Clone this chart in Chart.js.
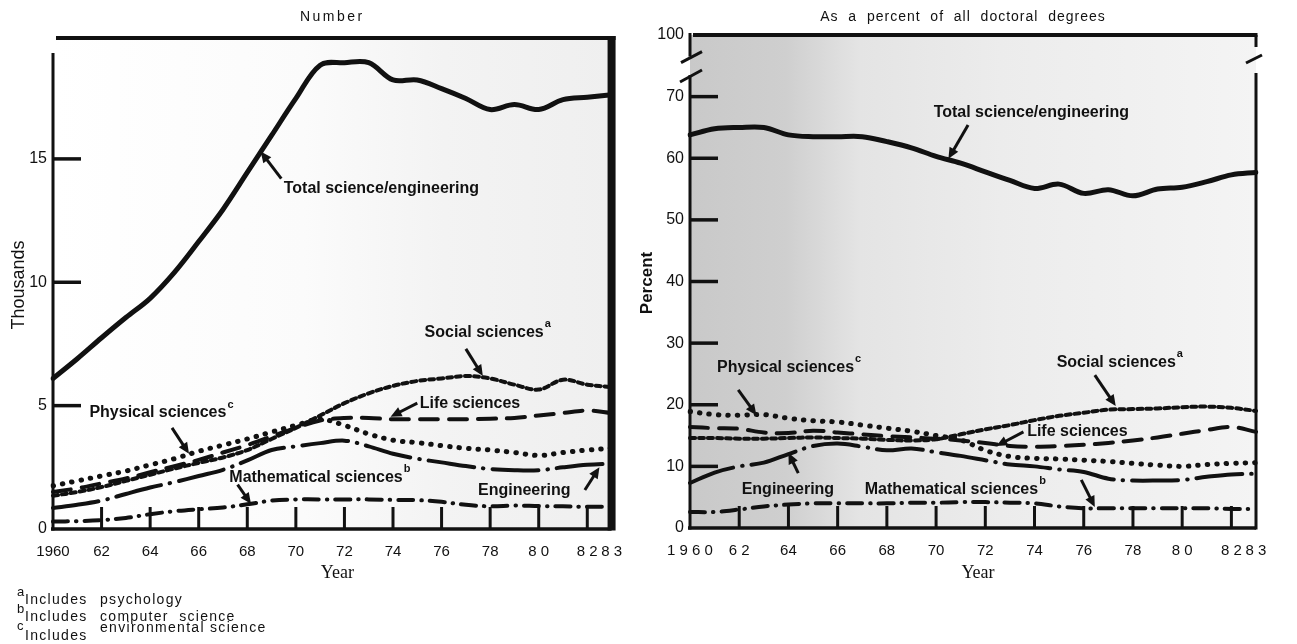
<!DOCTYPE html>
<html>
<head>
<meta charset="utf-8">
<title>Science/engineering doctorates 1960-83</title>
<script src="https://cdn.jsdelivr.net/npm/chart.js@4.4.1/dist/chart.umd.min.js"></script>
<style>
  html, body { margin: 0; padding: 0; background: #fff; }
  body { width: 1297px; height: 644px; position: relative; overflow: hidden; }
  .panel { position: absolute; top: 0; height: 644px; }
  #left { left: 0; width: 636px; }
  #right { left: 636px; width: 661px; }
</style>
</head>
<body>
<div class="panel" id="left"><canvas id="numChart" width="636" height="644"></canvas></div>
<div class="panel" id="right"><canvas id="pctChart" width="661" height="644"></canvas></div>
<script>
// years on the x axis
const years = [1960,1961,1962,1963,1964,1965,1966,1967,1968,1969,1970,1971,
               1972,1973,1974,1975,1976,1977,1978,1979,1980,1981,1982,1983];
const labelYears = [1960,1962,1964,1966,1968,1970,1972,1974,1976,1978,1980,1982,1983];
const numTickText = ['1960','62','64','66','68','70','72','74','76','78','8 0','8 2','8 3'];
const pctTickText = ['1 9 6 0','6 2','64','66','68','70','72','74','76','78','8 0','8 2','8 3'];

// Number (thousands)
const numTotal = [6.1,6.9,7.75,8.57,9.35,10.4,11.65,12.95,14.45,15.95,17.45,18.8,
                  18.9,18.9,18.2,18.2,17.85,17.45,17.0,17.2,17.0,17.4,17.5,17.6];
const numSocial = [1.35,1.5,1.7,1.95,2.2,2.45,2.68,2.9,3.2,3.65,4.1,4.6,
                   5.1,5.5,5.8,6.0,6.1,6.2,6.1,5.85,5.65,6.05,5.85,5.75];
const numPhysical = [1.75,1.95,2.15,2.35,2.6,2.85,3.15,3.4,3.65,3.93,4.2,4.45,
                     4.2,3.85,3.6,3.5,3.38,3.27,3.2,3.1,2.98,3.1,3.2,3.27];
const numLife = [1.5,1.65,1.85,2.05,2.3,2.55,2.8,3.1,3.4,3.75,4.1,4.4,
                 4.5,4.5,4.45,4.45,4.45,4.45,4.47,4.5,4.6,4.7,4.8,4.7];
const numEngineering = [0.85,0.98,1.15,1.42,1.68,1.9,2.15,2.4,2.78,3.2,3.35,3.48,
                        3.58,3.35,3.05,2.85,2.7,2.55,2.43,2.38,2.38,2.5,2.6,2.65];
const numMath = [0.3,0.32,0.36,0.45,0.6,0.72,0.8,0.87,1.0,1.15,1.2,1.2,
                 1.2,1.2,1.18,1.17,1.1,0.98,0.92,0.95,0.93,0.92,0.9,0.9];

// As a percent of all doctoral degrees
const pctTotal = [63.8,64.8,65.0,65.0,63.8,63.5,63.5,63.5,62.7,61.7,60.3,59.2,
                  57.8,56.4,55.1,55.8,54.3,54.9,53.9,55.0,55.3,56.2,57.3,57.7];
const pctSocial = [14.6,14.6,14.5,14.5,14.6,14.7,14.6,14.5,14.3,14.2,14.4,15.2,
                   16.0,16.7,17.5,18.2,18.7,19.2,19.3,19.4,19.6,19.7,19.5,19.0];
const pctPhysical = [18.9,18.4,18.3,18.4,17.8,17.4,17.2,16.7,16.2,15.7,15.0,14.3,
                     12.6,11.6,11.3,11.2,11.0,10.8,10.5,10.2,10.0,10.3,10.5,10.6];
const pctLife = [16.4,16.2,16.1,15.5,15.4,15.8,15.5,15.2,14.9,14.7,14.5,14.2,
                 13.8,13.3,13.2,13.3,13.5,13.8,14.2,14.7,15.3,15.9,16.4,15.6];
const pctEngineering = [7.3,9.0,10.0,10.6,12.0,13.3,13.7,13.2,12.6,12.9,12.3,11.7,
                        11.0,10.3,10.0,9.5,9.1,8.0,7.7,7.7,7.8,8.3,8.7,8.8];
const pctMath = [2.6,2.6,3.0,3.5,3.8,4.0,4.0,4.0,4.0,4.1,4.1,4.2,
                 4.2,4.1,4.0,3.5,3.2,3.2,3.2,3.2,3.2,3.2,3.1,3.1];

const footnotes = [['a', 'psychology'], ['b', 'computer  science'], ['c', 'environmental science']];

// callouts, in data units: label spot, arrow tail, arrow head
const numNotes = [
  {text: 'Total science/engineering', at: [1969.5, 13.8], from: [1969.4, 14.2], to: [1968.55, 15.3]},
  {text: 'Social sciences', sup: 'a', at: [1975.3, 7.97], from: [1977.0, 7.3], to: [1977.7, 6.2]},
  {text: 'Life sciences', at: [1975.1, 5.1], from: [1975.0, 5.1], to: [1973.9, 4.55]},
  {text: 'Physical sciences', sup: 'c', at: [1961.5, 4.7], from: [1964.9, 4.1], to: [1965.6, 3.05]},
  {text: 'Mathematical sciences', sup: 'b', at: [1967.26, 2.1], from: [1967.6, 1.8], to: [1968.15, 1.02]},
  {text: 'Engineering', at: [1977.5, 1.55], from: [1981.9, 1.58], to: [1982.5, 2.5]}
];
const pctNotes = [
  {text: 'Total science/engineering', at: [1969.9, 67.4], from: [1971.3, 65.4], to: [1970.5, 59.9]},
  {text: 'Social sciences', sup: 'a', at: [1974.9, 26.9], from: [1976.45, 24.8], to: [1977.3, 19.8]},
  {text: 'Life sciences', at: [1973.7, 15.6], from: [1973.55, 15.6], to: [1972.45, 13.3]},
  {text: 'Physical sciences', sup: 'c', at: [1961.1, 26.1], from: [1961.96, 22.4], to: [1962.7, 18.3]},
  {text: 'Engineering', at: [1962.1, 6.3], from: [1964.4, 8.9], to: [1964.0, 12.2]},
  {text: 'Mathematical sciences', sup: 'b', at: [1967.1, 6.3], from: [1975.9, 7.8], to: [1976.45, 3.4]}
];

const ink = '#111';
const sans = '"Liberation Sans", Arial, Helvetica, sans-serif';
Chart.defaults.font.family = sans;
Chart.defaults.color = ink;

function seg(ctx, x1, y1, x2, y2) {
  ctx.beginPath(); ctx.moveTo(x1, y1); ctx.lineTo(x2, y2); ctx.stroke();
}

function arrow(ctx, x1, y1, x2, y2) {
  const a = Math.atan2(y2 - y1, x2 - x1), L = 11, W = 5;
  ctx.lineWidth = 3;
  seg(ctx, x1, y1, x2 - Math.cos(a) * L * 0.7, y2 - Math.sin(a) * L * 0.7);
  ctx.beginPath();
  ctx.moveTo(x2, y2);
  ctx.lineTo(x2 - Math.cos(a) * L + Math.sin(a) * W, y2 - Math.sin(a) * L - Math.cos(a) * W);
  ctx.lineTo(x2 - Math.cos(a) * L - Math.sin(a) * W, y2 - Math.sin(a) * L + Math.cos(a) * W);
  ctx.closePath();
  ctx.fill();
}

function drawNotes(chart, notes) {
  const {ctx, scales: {x, y}} = chart;
  const px = v => x.getPixelForValue(v - years[0]);
  notes.forEach(n => {
    ctx.font = 'bold 16px ' + sans;
    ctx.textAlign = 'left';
    ctx.textBaseline = 'middle';
    const tx = px(n.at[0]), ty = y.getPixelForValue(n.at[1]);
    ctx.fillText(n.text, tx, ty);
    if (n.sup) {
      const w = ctx.measureText(n.text).width;
      ctx.font = 'bold 11px ' + sans;
      ctx.fillText(n.sup, tx + w + 1, ty - 8);
    }
    arrow(ctx, px(n.from[0]), y.getPixelForValue(n.from[1]), px(n.to[0]), y.getPixelForValue(n.to[1]));
  });
}

// frame, inner ticks, titles, callouts
const frame = {
  id: 'frame',
  beforeDatasetsDraw(chart, args, o) {
    const {ctx, chartArea: a} = chart;
    ctx.save();
    const g = ctx.createLinearGradient(a.left, 0, a.right, 0);
    o.shade.forEach(s => g.addColorStop(s[0], s[1]));
    ctx.fillStyle = g;
    ctx.fillRect(a.left, a.top, a.right - a.left, a.bottom - a.top);
    ctx.restore();
  },
  afterDatasetsDraw(chart, args, o) {
    const {ctx, chartArea: a, scales: {x, y}} = chart;
    ctx.save();
    ctx.strokeStyle = ink;
    ctx.fillStyle = ink;
    ctx.lineCap = 'butt';

    // inner tick marks
    ctx.lineWidth = 3;
    labelYears.slice(1, -1).forEach(yr => {
      const p = x.getPixelForValue(years.indexOf(yr));
      seg(ctx, p, a.bottom, p, a.bottom - 22);
    });
    ctx.lineWidth = 3.5;
    o.yTicks.forEach(v => {
      const p = y.getPixelForValue(v);
      seg(ctx, a.left, p, a.left + 28, p);
    });

    // axes and frame
    ctx.lineWidth = 3.5;
    seg(ctx, a.left - 2, a.bottom, a.right, a.bottom);
    ctx.lineWidth = 4;
    seg(ctx, a.left + 3, a.top, a.right + o.rightW / 2, a.top);
    if (o.kind === 'num') {
      ctx.lineWidth = 3;
      seg(ctx, a.left, a.top + 15, a.left, a.bottom + 1.5);
      ctx.lineWidth = o.rightW;
      seg(ctx, a.right, a.top - 2, a.right, a.bottom + 1.5);
    } else {
      const b1 = y.getPixelForValue(76.5), b2 = y.getPixelForValue(73.5);
      ctx.lineWidth = 3;
      seg(ctx, a.left, a.top - 2, a.left, b1);
      seg(ctx, a.left, b2, a.left, a.bottom + 1.5);
      ctx.lineWidth = 3;
      seg(ctx, a.left - 9, b1 + 6, a.left + 12, b1 - 5);
      seg(ctx, a.left - 10, b2 + 7, a.left + 12, b2 - 5);
      seg(ctx, a.right, a.top, a.right, a.top + 12);
      seg(ctx, a.right - 10, a.top + 28, a.right + 6, a.top + 20);
      seg(ctx, a.right, a.top + 38, a.right, a.bottom + 1.5);
    }

    // panel title, axis titles
    const cx = (a.left + a.right) / 2;
    ctx.textAlign = 'center';
    ctx.textBaseline = 'middle';
    ctx.font = '14px ' + sans;
    ctx.letterSpacing = o.titleSpacing;
    ctx.fillText(o.title, cx + o.titleShift, 17);
    ctx.letterSpacing = '0px';
    ctx.font = '18px "Liberation Serif", "Times New Roman", serif';
    ctx.fillText('Year', cx + 5, 573);
    ctx.save();
    ctx.translate(o.yTitleX, o.yTitleY);
    ctx.rotate(-Math.PI / 2);
    ctx.font = o.yTitleFont + ' ' + sans;
    ctx.fillText(o.yTitle, 0, 0);
    ctx.restore();

    drawNotes(chart, o.notes);

    if (o.kind === 'num') {
      ctx.textAlign = 'left';
      ctx.letterSpacing = '1.3px';
      footnotes.forEach((f, i) => {
        const base = 600 + i * 17;
        ctx.font = '13px ' + sans;
        ctx.fillText(f[0], 17, base - 8);
        ctx.font = '14px ' + sans;
        ctx.fillText('Includes', 25, base + (i === 2 ? 2 : 0));
        ctx.fillText(f[1], 100, base - (i === 2 ? 6 : 0));
      });
      ctx.letterSpacing = '0px';
    }
    ctx.restore();
  }
};

function lineSet(label, data, width, dash) {
  return {
    label, data, borderColor: ink, borderWidth: width, borderDash: dash,
    borderCapStyle: 'round', borderJoinStyle: 'round',
    pointRadius: 0, fill: false, tension: 0.35
  };
}

function makeChart(id, cfg) {
  const tickFont = {size: 15};
  return new Chart(document.getElementById(id), {
    type: 'line',
    data: {
      labels: years,
      datasets: [
        lineSet('Total science/engineering', cfg.total, 5, []),
        lineSet('Social sciences', cfg.social, 4, [5, 4]),
        lineSet('Physical sciences', cfg.physical, 5, [0.5, 9]),
        lineSet('Life sciences', cfg.life, 4, [18, 11]),
        lineSet('Engineering', cfg.engineering, 4, [46, 9, 0.5, 9]),
        lineSet('Mathematical sciences', cfg.math, 4, [15, 8, 0.5, 8])
      ]
    },
    options: {
      responsive: false,
      devicePixelRatio: 1,
      animation: false,
      layout: {padding: {top: cfg.top, right: cfg.right, left: 0, bottom: 0}},
      plugins: {
        legend: {display: false},
        tooltip: {enabled: false},
        frame: cfg.frame
      },
      scales: {
        x: {
          type: 'category',
          offset: false,
          grid: {display: false, drawTicks: false},
          border: {display: false},
          ticks: {
            autoSkip: false, maxRotation: 0, padding: 14, font: tickFont, color: ink,
            callback: (v, i) => {
              const k = labelYears.indexOf(years[i]);
              return k < 0 ? '' : cfg.tickText[k];
            }
          },
          afterFit: s => { s.height = 644 - cfg.bottom; }
        },
        y: {
          min: 0, max: cfg.yMax,
          grid: {display: false, drawTicks: false},
          border: {display: false},
          ticks: {padding: 6, font: {size: 16}, color: ink, callback: cfg.yLabel},
          afterBuildTicks: s => { s.ticks = cfg.yTickVals.map(v => ({value: v})); },
          afterFit: s => { s.width = cfg.left; }
        }
      }
    },
    plugins: [frame]
  });
}

makeChart('numChart', {
  total: numTotal, social: numSocial, physical: numPhysical, life: numLife,
  engineering: numEngineering, math: numMath,
  tickText: numTickText, top: 38, right: 12, left: 53, bottom: 529,
  yMax: 19.9, yTickVals: [0, 5, 10, 15], yLabel: v => v,
  frame: {
    kind: 'num', notes: numNotes, yTicks: [5, 10, 15], rightW: 8,
    title: 'Number', titleSpacing: '2.5px', titleShift: 0,
    yTitle: 'Thousands', yTitleFont: '18px', yTitleX: 19, yTitleY: 285,
    shade: [[0, '#ffffff'], [0.45, '#fbfbfb'], [0.7, '#f3f3f3'], [1, '#efefef']]
  }
});

makeChart('pctChart', {
  total: pctTotal, social: pctSocial, physical: pctPhysical, life: pctLife,
  engineering: pctEngineering, math: pctMath,
  tickText: pctTickText, top: 35, right: 41, left: 54, bottom: 528,
  yMax: 80, yTickVals: [0, 10, 20, 30, 40, 50, 60, 70, 80], yLabel: v => (v === 80 ? '100' : v),
  frame: {
    kind: 'pct', notes: pctNotes, yTicks: [10, 20, 30, 40, 50, 60, 70], rightW: 3,
    title: 'As  a  percent  of  all  doctoral  degrees', titleSpacing: '1px', titleShift: -10,
    yTitle: 'Percent', yTitleFont: 'bold 17px', yTitleX: 11, yTitleY: 283,
    shade: [[0, '#c9c9c9'], [0.17, '#cfcfcf'], [0.3, '#e4e4e4'], [0.55, '#ececec'], [1, '#f4f4f4']]
  }
});
</script>
</body>
</html>
